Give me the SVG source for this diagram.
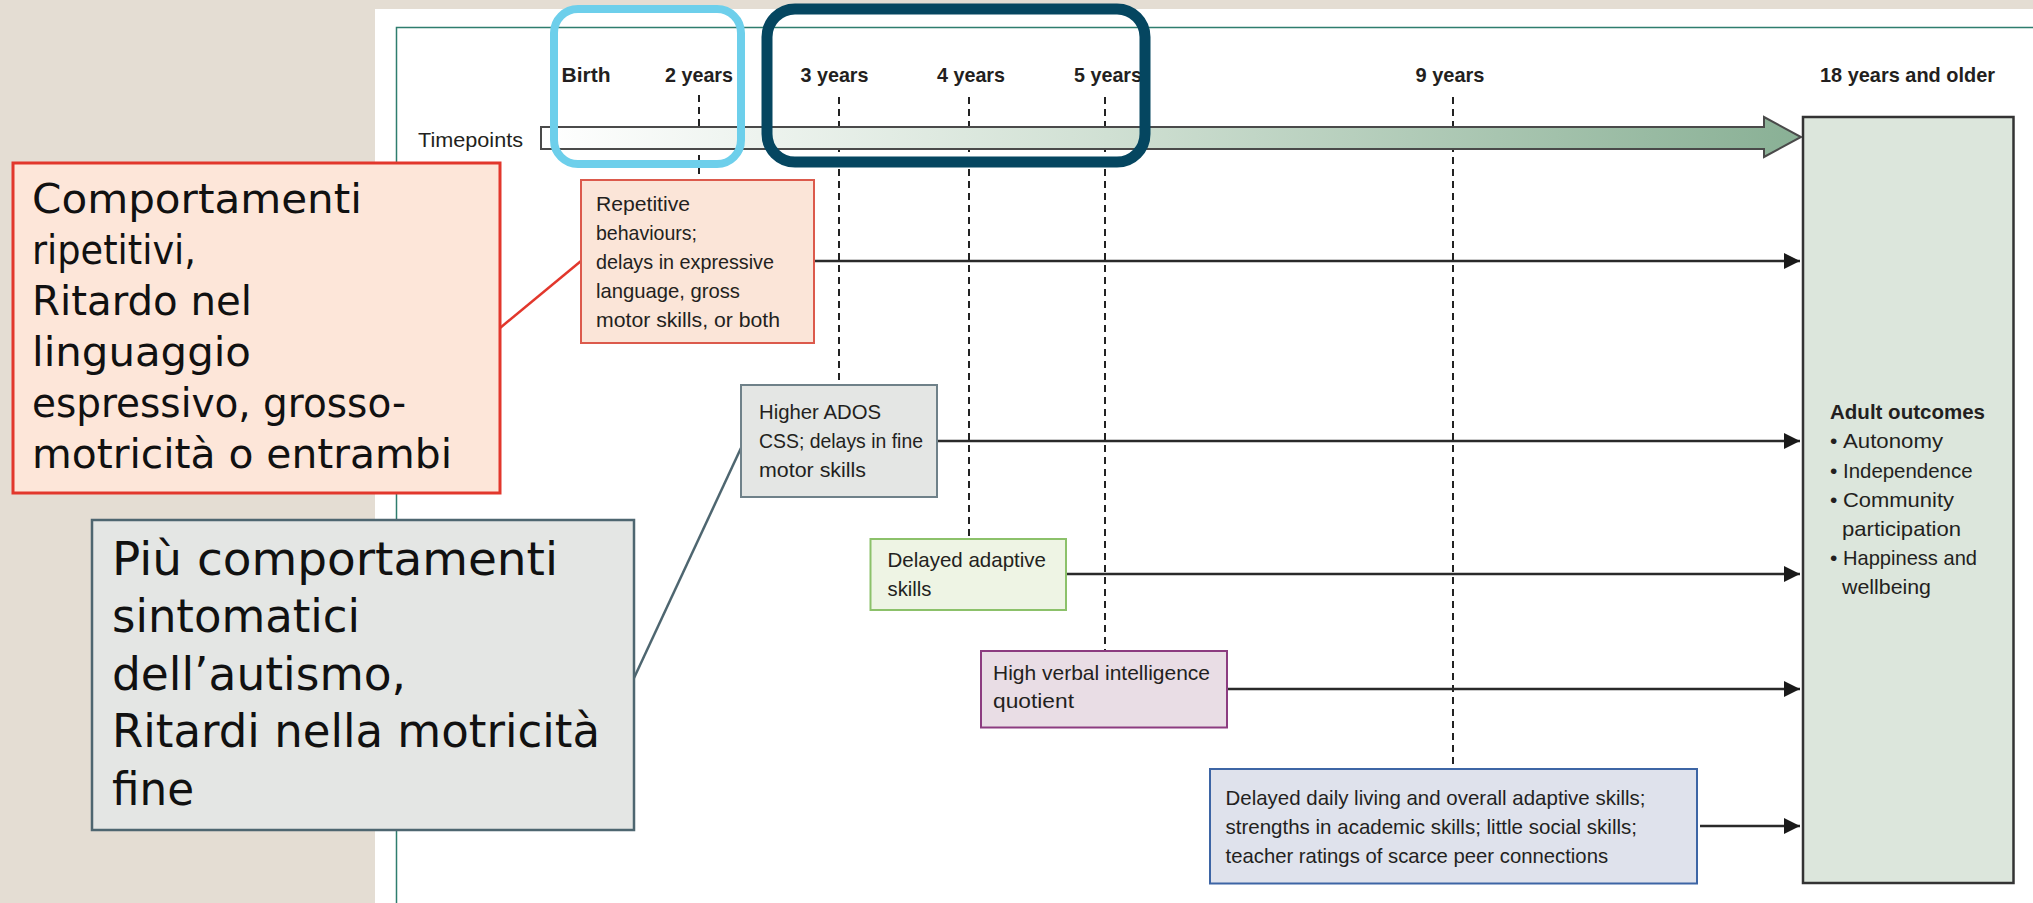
<svg xmlns="http://www.w3.org/2000/svg" width="2033" height="903" viewBox="0 0 2033 903">
<defs>
<style>
.t{font-family:"Liberation Sans",Arial,sans-serif;font-size:21px;fill:#231f20}
.tb{font-family:"Liberation Sans",Arial,sans-serif;font-size:21px;font-weight:bold;fill:#231f20}
.big{font-family:"DejaVu Sans","Liberation Sans",sans-serif;font-size:41px;fill:#111}
.big2{font-family:"DejaVu Sans","Liberation Sans",sans-serif;font-size:47px;fill:#111}
.dash{stroke:#222;stroke-width:2;stroke-dasharray:7 5;fill:none}
.arr{stroke:#2a2a2a;stroke-width:2.5;fill:none;marker-end:url(#ah)}
</style>
<marker id="ah" markerUnits="userSpaceOnUse" markerWidth="17" markerHeight="17" refX="16" refY="8" orient="auto">
<path d="M0,0 L16,8 L0,16 Z" fill="#1a1a1a"/>
</marker>
<linearGradient id="bar" gradientUnits="userSpaceOnUse" x1="541" y1="0" x2="1800" y2="0">
<stop offset="0" stop-color="#ffffff"/>
<stop offset="0.45" stop-color="#d0e0d3"/>
<stop offset="1" stop-color="#89b095"/>
</linearGradient>
</defs>

<rect x="0" y="0" width="2033" height="903" fill="#e4ddd3"/>
<rect x="375" y="9" width="1658" height="894" fill="#ffffff"/>
<path d="M396.5,903 V27.5 H2033" fill="none" stroke="#2e7d6e" stroke-width="1.5"/>

<g id="timeline">
<text class="t" x="418" y="147" textLength="105" lengthAdjust="spacingAndGlyphs">Timepoints</text>
<g id="dashes">
<line class="dash" x1="699" y1="95" x2="699" y2="180"/>
<line class="dash" x1="839" y1="97" x2="839" y2="385"/>
<line class="dash" x1="969" y1="97" x2="969" y2="539"/>
<line class="dash" x1="1105" y1="97" x2="1105" y2="651"/>
<line class="dash" x1="1453" y1="97" x2="1453" y2="769"/>
</g>
<path d="M541,127 H1764 V117 L1801,137 L1764,157 V149 H541 Z" fill="url(#bar)" stroke="#4a4a4a" stroke-width="2"/>
<text class="tb" x="586" y="82" text-anchor="middle" textLength="49" lengthAdjust="spacingAndGlyphs">Birth</text>
<text class="tb" x="699" y="82" text-anchor="middle" textLength="68" lengthAdjust="spacingAndGlyphs">2 years</text>
<text class="tb" x="834.5" y="82" text-anchor="middle" textLength="68" lengthAdjust="spacingAndGlyphs">3 years</text>
<text class="tb" x="971" y="82" text-anchor="middle" textLength="68" lengthAdjust="spacingAndGlyphs">4 years</text>
<text class="tb" x="1108" y="82" text-anchor="middle" textLength="68" lengthAdjust="spacingAndGlyphs">5 years</text>
<text class="tb" x="1450" y="82" text-anchor="middle" textLength="69" lengthAdjust="spacingAndGlyphs">9 years</text>
<text class="tb" x="1907.5" y="82" text-anchor="middle" textLength="175" lengthAdjust="spacingAndGlyphs">18 years and older</text>
</g>

<g id="connectors">
<line class="arr" x1="814" y1="261" x2="1800" y2="261"/>
<line class="arr" x1="937" y1="441" x2="1800" y2="441"/>
<line class="arr" x1="1066" y1="574" x2="1800" y2="574"/>
<line class="arr" x1="1227" y1="689" x2="1800" y2="689"/>
<line class="arr" x1="1700" y1="826" x2="1800" y2="826"/>
<line x1="581" y1="261" x2="500" y2="328" stroke="#e2372c" stroke-width="2.5"/>
<line x1="741" y1="448" x2="634" y2="678" stroke="#4e6670" stroke-width="2.5"/>
</g>

<g id="adult">
<rect x="1803" y="117" width="210.5" height="766" fill="#dce6dc" stroke="#333" stroke-width="2.5"/>
<text class="tb" x="1830" y="419" textLength="155" lengthAdjust="spacingAndGlyphs">Adult outcomes</text>
<text class="t" x="1830" y="448">•</text>
<text class="t" x="1843" y="448" textLength="100" lengthAdjust="spacingAndGlyphs">Autonomy</text>
<text class="t" x="1830" y="478">•</text>
<text class="t" x="1843" y="478" textLength="129.5" lengthAdjust="spacingAndGlyphs">Independence</text>
<text class="t" x="1830" y="507">•</text>
<text class="t" x="1843" y="507" textLength="111" lengthAdjust="spacingAndGlyphs">Community</text>
<text class="t" x="1842" y="536" textLength="119" lengthAdjust="spacingAndGlyphs">participation</text>
<text class="t" x="1830" y="565">•</text>
<text class="t" x="1843" y="565" textLength="134" lengthAdjust="spacingAndGlyphs">Happiness and</text>
<text class="t" x="1842" y="594" textLength="89" lengthAdjust="spacingAndGlyphs">wellbeing</text>
</g>

<g id="repetitive">
<rect x="581" y="180" width="233" height="163" fill="#fbe5d8" stroke="#dc5a4c" stroke-width="2"/>
<text class="t" x="596" y="211" textLength="94" lengthAdjust="spacingAndGlyphs">Repetitive</text>
<text class="t" x="596" y="240" textLength="101" lengthAdjust="spacingAndGlyphs">behaviours;</text>
<text class="t" x="596" y="269" textLength="178" lengthAdjust="spacingAndGlyphs">delays in expressive</text>
<text class="t" x="596" y="298" textLength="144" lengthAdjust="spacingAndGlyphs">language, gross</text>
<text class="t" x="596" y="327" textLength="184" lengthAdjust="spacingAndGlyphs">motor skills, or both</text>
</g>

<g id="ados">
<rect x="741" y="385" width="196" height="112" fill="#e4e6e4" stroke="#6f8189" stroke-width="2"/>
<text class="t" x="759" y="419" textLength="122" lengthAdjust="spacingAndGlyphs">Higher ADOS</text>
<text class="t" x="759" y="448" textLength="164" lengthAdjust="spacingAndGlyphs">CSS; delays in fine</text>
<text class="t" x="759" y="477" textLength="107" lengthAdjust="spacingAndGlyphs">motor skills</text>
</g>

<g id="adaptive">
<rect x="870.5" y="539" width="195.5" height="71" fill="#eef4e4" stroke="#8cc16a" stroke-width="2"/>
<text class="t" x="887.5" y="567" textLength="158.5" lengthAdjust="spacingAndGlyphs">Delayed adaptive</text>
<text class="t" x="887.5" y="596" textLength="44" lengthAdjust="spacingAndGlyphs">skills</text>
</g>

<g id="verbal">
<rect x="981" y="651" width="246" height="76.5" fill="#e9dde5" stroke="#8c3c80" stroke-width="2"/>
<text class="t" x="993" y="680" textLength="217" lengthAdjust="spacingAndGlyphs">High verbal intelligence</text>
<text class="t" x="993" y="708" textLength="81" lengthAdjust="spacingAndGlyphs">quotient</text>
</g>

<g id="daily">
<rect x="1210" y="769" width="487" height="114.5" fill="#dfe2ec" stroke="#3d65a5" stroke-width="2"/>
<text class="t" x="1225.5" y="805" textLength="420" lengthAdjust="spacingAndGlyphs">Delayed daily living and overall adaptive skills;</text>
<text class="t" x="1225.5" y="834" textLength="411.5" lengthAdjust="spacingAndGlyphs">strengths in academic skills; little social skills;</text>
<text class="t" x="1225.5" y="863" textLength="382.6" lengthAdjust="spacingAndGlyphs">teacher ratings of scarce peer connections</text>
</g>

<g id="note-red">
<rect x="13" y="163" width="487" height="330" fill="#fde6d9" stroke="#e2372c" stroke-width="3"/>
<text class="big" x="32" y="213" textLength="330" lengthAdjust="spacingAndGlyphs">Comportamenti</text>
<text class="big" x="32" y="264" textLength="164" lengthAdjust="spacingAndGlyphs">ripetitivi,</text>
<text class="big" x="32" y="315" textLength="220" lengthAdjust="spacingAndGlyphs">Ritardo nel</text>
<text class="big" x="32" y="366" textLength="219" lengthAdjust="spacingAndGlyphs">linguaggio</text>
<text class="big" x="32" y="417" textLength="374" lengthAdjust="spacingAndGlyphs">espressivo, grosso-</text>
<text class="big" x="32" y="468" textLength="420" lengthAdjust="spacingAndGlyphs">motricità o entrambi</text>
</g>

<g id="note-grey">
<rect x="92" y="520" width="542" height="310" fill="#e4e6e4" stroke="#4e6670" stroke-width="2.5"/>
<text class="big2" x="112" y="575" textLength="446" lengthAdjust="spacingAndGlyphs">Più comportamenti</text>
<text class="big2" x="112" y="632" textLength="248" lengthAdjust="spacingAndGlyphs">sintomatici</text>
<text class="big2" x="112" y="690" textLength="294" lengthAdjust="spacingAndGlyphs">dell’autismo,</text>
<text class="big2" x="112" y="747" textLength="488" lengthAdjust="spacingAndGlyphs">Ritardi nella motricità</text>
<text class="big2" x="112" y="805" textLength="82" lengthAdjust="spacingAndGlyphs">fine</text>
</g>

<g id="highlights">
<rect x="554" y="9" width="187" height="155" rx="24" fill="none" stroke="#6dcfeb" stroke-width="8"/>
<rect x="767" y="9" width="378" height="153" rx="28" fill="none" stroke="#054660" stroke-width="11"/>
</g>
</svg>
